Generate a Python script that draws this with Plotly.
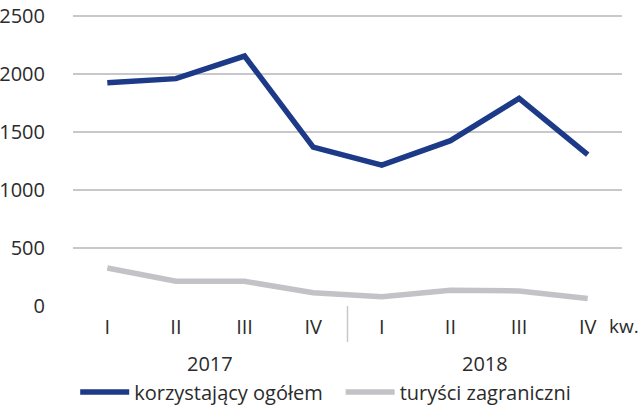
import plotly.graph_objects as go

quarters = ["I", "II", "III", "IV", "I", "II", "III", "IV"]
years = ["2017", "2018"]
total = [1925, 1960, 2155, 1370, 1215, 1425, 1790, 1305]
foreign = [328, 213, 213, 115, 80, 135, 130, 65]
y_ticks = [0, 500, 1000, 1500, 2000, 2500]

x_idx = list(range(len(quarters)))
FONT = "Open Sans"
TXT = "#2b2b2b"
FS = 20
PLOT_H = 298  # px height of plotting area

def below(px):
    return -px / PLOT_H

fig = go.Figure()
fig.add_trace(go.Scatter(x=x_idx, y=total, mode="lines", name="korzystający ogółem",
                         line=dict(color="#1c3a87", width=5.5), legend="legend"))
fig.add_trace(go.Scatter(x=x_idx, y=foreign, mode="lines", name="turyści zagraniczni",
                         line=dict(color="#c3c3c7", width=5.5), legend="legend2"))

leg_common = dict(orientation="h", yanchor="middle", y=below(86), xanchor="left",
                  font=dict(size=FS, color=TXT), itemwidth=49,
                  bgcolor="rgba(0,0,0,0)", borderwidth=0)
fig.update_layout(
    width=643, height=407,
    margin=dict(l=73, r=21, t=8, b=101, autoexpand=False),
    paper_bgcolor="white", plot_bgcolor="white",
    font=dict(family=FONT, size=FS, color=TXT),
    showlegend=True,
    legend=dict(x=0.004, **leg_common),
    legend2=dict(x=0.4875, **leg_common),
)
fig.update_xaxes(range=[-0.5, 7.5], tickvals=x_idx, ticktext=quarters,
                 showgrid=False, zeroline=False, showline=False, ticks="",
                 ticklabelstandoff=7, tickfont=dict(size=FS, color=TXT))
fig.update_yaxes(range=[0, 2569], tickvals=y_ticks, showgrid=True, gridcolor="#c8c8cc",
                 gridwidth=1.5, zeroline=False, showline=False, ticks="",
                 ticklabeloverflow="allow",
                 ticklabelstandoff=27, tickfont=dict(size=FS, color=TXT))

fig.add_shape(type="line", xref="x", yref="paper", x0=3.5, x1=3.5, y0=0, y1=below(36),
              line=dict(color="#c8c8cc", width=1.5))
for i, yr in enumerate(years):
    fig.add_annotation(x=1.5 + 4 * i, xref="x", y=below(57), yref="paper", text=yr,
                       showarrow=False, font=dict(size=FS, color=TXT), yanchor="middle")
fig.add_annotation(x=1.0346, xref="paper", y=below(20), yref="paper", text="kw.",
                   showarrow=False, xanchor="right", yanchor="middle",
                   font=dict(size=19, color=TXT))

fig.write_html("out.html", config={"displayModeBar": False},
               post_script="document.body.style.margin='0';")
